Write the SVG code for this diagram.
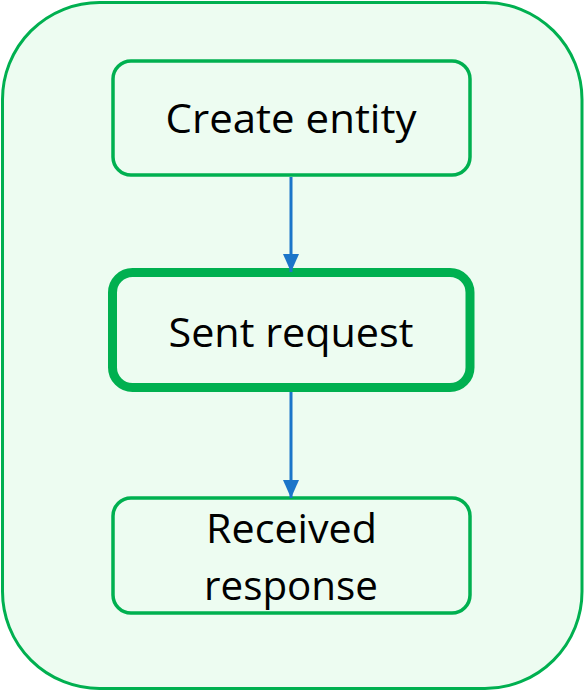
<svg xmlns="http://www.w3.org/2000/svg" width="584" height="691" viewBox="0 0 584 691">
  <style>
    .frame { fill: #edfcf1; stroke: #00b050; stroke-width: 3; }
    .node { fill: #edfcf1; stroke: #00b050; stroke-width: 3.5; }
    .node-active { fill: #edfcf1; stroke: #00b050; stroke-width: 9; }
    .label { font-family: "Open Sans", "Noto Sans", "Liberation Sans", sans-serif; font-size: 41px; fill: #000000; text-anchor: middle; }
    .edge { stroke: #1b75c9; stroke-width: 3; fill: none; }
  </style>
  <defs>
    <marker id="arrow" viewBox="0 0 18 16" refX="18" refY="8" markerWidth="18" markerHeight="16" markerUnits="userSpaceOnUse" orient="auto">
      <path d="M0,0 L18,8 L0,16 Z" fill="#1b75c9"/>
    </marker>
  </defs>

  <!-- outer container -->
  <rect class="frame" x="2.5" y="2.5" width="579.5" height="686" rx="97" ry="97"/>

  <g id="create-entity">
    <rect class="node" x="113" y="61" width="357" height="114" rx="18" ry="18"/>
    <text class="label" x="291" y="133" textLength="251" lengthAdjust="spacingAndGlyphs">Create entity</text>
  </g>

  <g id="sent-request">
    <rect class="node-active" x="112.5" y="272.5" width="357.5" height="115" rx="20" ry="20"/>
    <text class="label" x="291" y="347" textLength="245" lengthAdjust="spacingAndGlyphs">Sent request</text>
  </g>

  <g id="received-response">
    <rect class="node" x="113" y="498" width="357" height="115" rx="18" ry="18"/>
    <text class="label" x="291.5" y="543" textLength="171" lengthAdjust="spacingAndGlyphs">Received</text>
    <text class="label" x="291" y="600" textLength="174" lengthAdjust="spacingAndGlyphs">response</text>
  </g>

  <!-- connectors drawn on top so the arrow tips overlap the box borders -->
  <g id="connectors">
    <line class="edge" x1="291" y1="177" x2="291" y2="272" marker-end="url(#arrow)"/>
    <line class="edge" x1="291" y1="392" x2="291" y2="498" marker-end="url(#arrow)"/>
  </g>
</svg>
